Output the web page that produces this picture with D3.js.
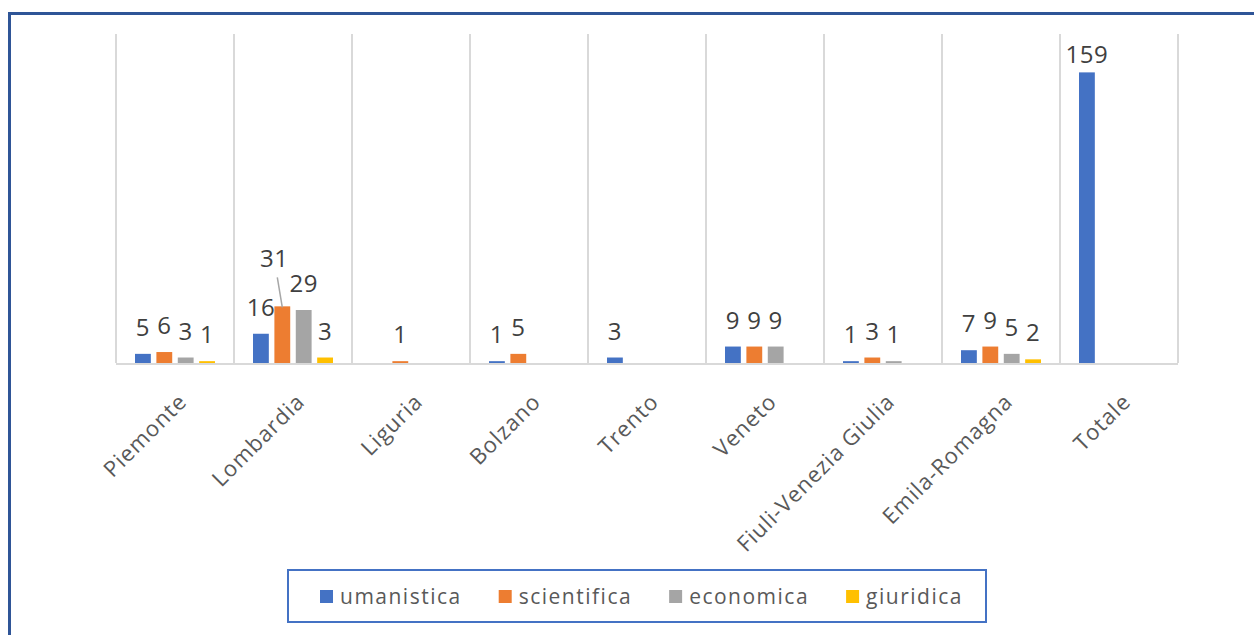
<!DOCTYPE html>
<html>
<head>
<meta charset="utf-8">
<script src="https://cdnjs.cloudflare.com/ajax/libs/d3/7.8.5/d3.min.js"></script>
<style>
  body { margin: 0; background: #fff; }
  svg text { font-family: "Open Sans", "Noto Sans", sans-serif; }
</style>
</head>
<body>
<svg id="chart"></svg>
<script>
var categories = ['Piemonte', 'Lombardia', 'Liguria', 'Bolzano', 'Trento', 'Veneto',
                  'Fiuli-Venezia Giulia', 'Emila-Romagna', 'Totale'];
var seriesNames = ['umanistica', 'scientifica', 'economica', 'giuridica'];
var umanistica  = [5, 16, null, 1, 3, 9, 1, 7, 159];
var scientifica = [6, 31, 1, 5, null, 9, 3, 9, null];
var economica   = [3, 29, null, null, null, 9, 1, 5, null];
var giuridica   = [1, 3, null, null, null, null, null, 2, null];
var yTicks = [0, 180];

var colors = ['#4472C4', '#ED7D31', '#A5A5A5', '#FFC000'];
var seriesValues = [umanistica, scientifica, economica, giuridica];

var width = 1254, height = 635;
var svg = d3.select('#chart').attr('width', width).attr('height', height);

// outer chart frame (runs off the right and bottom edge)
svg.append('rect')
    .attr('x', 9.5).attr('y', 13.5)
    .attr('width', width + 20).attr('height', height + 20)
    .attr('fill', 'none')
    .attr('stroke', '#2F5597')
    .attr('stroke-width', 3);

var plot = { left: 116, right: 1178, top: 34, bottom: 363 };

var x0 = d3.scaleBand()
            .domain(categories)
            .range([plot.left, plot.right])
            .paddingInner(0).paddingOuter(0);

var x1 = d3.scaleBand()
            .domain(seriesNames)
            .range([19, x0.bandwidth() - 19])
            .paddingInner(0.26);

var y = d3.scaleLinear()
            .domain(d3.extent(yTicks))
            .range([plot.bottom, plot.top]);

// vertical gridlines at category borders
var borders = categories.map(c => x0(c)).concat([plot.right]);
svg.selectAll('.grid')
    .data(borders)
    .enter()
    .append('line')
        .classed('grid', true)
        .attr('x1', d => d).attr('x2', d => d)
        .attr('y1', plot.top).attr('y2', plot.bottom)
        .attr('stroke', '#D9D9D9')
        .attr('stroke-width', 2);

// bars
var rows = [];
categories.forEach((c, i) => {
    seriesNames.forEach((s, j) => {
        var v = seriesValues[j][i];
        if (v !== null) rows.push({ cat: c, series: s, value: v, color: colors[j] });
    });
});

// baseline
svg.append('line')
    .attr('x1', plot.left).attr('x2', plot.right)
    .attr('y1', plot.bottom + 1).attr('y2', plot.bottom + 1)
    .attr('stroke', '#D9D9D9')
    .attr('stroke-width', 2);

svg.selectAll('.bar')
    .data(rows)
    .enter()
    .append('rect')
        .classed('bar', true)
        .attr('x', d => x0(d.cat) + x1(d.series))
        .attr('width', x1.bandwidth())
        .attr('y', d => y(d.value))
        .attr('height', d => y(0) - y(d.value))
        .attr('fill', d => d.color);

// data labels
var moved = { cat: 'Lombardia', series: 'scientifica', dx: -8, dy: -21 };
function labelPos(d) {
    var cx = x0(d.cat) + x1(d.series) + x1.bandwidth() / 2;
    var ly = Math.max(y(d.value) - 18, 63);
    if (d.cat === moved.cat && d.series === moved.series) {
        return [cx + moved.dx, ly + moved.dy];
    }
    return [cx, ly];
}

svg.selectAll('.leader')
    .data(rows.filter(d => d.cat === moved.cat && d.series === moved.series))
    .enter()
    .append('line')
        .attr('x1', d => labelPos(d)[0] + 3)
        .attr('y1', d => labelPos(d)[1] + 10)
        .attr('x2', d => x0(d.cat) + x1(d.series) + x1.bandwidth() / 2)
        .attr('y2', d => y(d.value) + 1)
        .attr('stroke', '#A6A6A6')
        .attr('stroke-width', 1.5);

svg.selectAll('.label')
    .data(rows)
    .enter()
    .append('text')
        .classed('label', true)
        .attr('x', d => labelPos(d)[0])
        .attr('y', d => labelPos(d)[1])
        .attr('text-anchor', 'middle')
        .style('font-size', '24px')
        .style('letter-spacing', '0.5px')
        .attr('fill', '#404040')
        .text(d => d.value);

// category axis
var xAxis = svg.append('g')
    .attr('transform', `translate(0, ${plot.bottom})`)
    .call(d3.axisBottom(x0).tickSize(0));
xAxis.select('.domain').remove();
xAxis.selectAll('text')
    .attr('text-anchor', 'end')
    .attr('dy', 0)
    .attr('transform', 'translate(11, 38) rotate(-45)')
    .style('font-size', '22px')
    .style('letter-spacing', '1px')
    .style('font-family', '"Open Sans", sans-serif')
    .attr('fill', '#595959');

// legend
var legend = svg.append('g');
legend.append('rect')
    .attr('x', 288).attr('y', 570)
    .attr('width', 698).attr('height', 52)
    .attr('fill', '#fff')
    .attr('stroke', '#4472C4')
    .attr('stroke-width', 2);

var lx = 320;
seriesNames.forEach((s, j) => {
    legend.append('rect')
        .attr('x', lx).attr('y', 590)
        .attr('width', 13).attr('height', 13)
        .attr('fill', colors[j]);
    var t = legend.append('text')
        .attr('x', lx + 20).attr('y', 604)
        .style('font-size', '21px')
        .style('letter-spacing', '1.5px')
        .attr('fill', '#595959')
        .text(s);
    lx += 20 + t.node().getComputedTextLength() + 37;
});
</script>
</body>
</html>
